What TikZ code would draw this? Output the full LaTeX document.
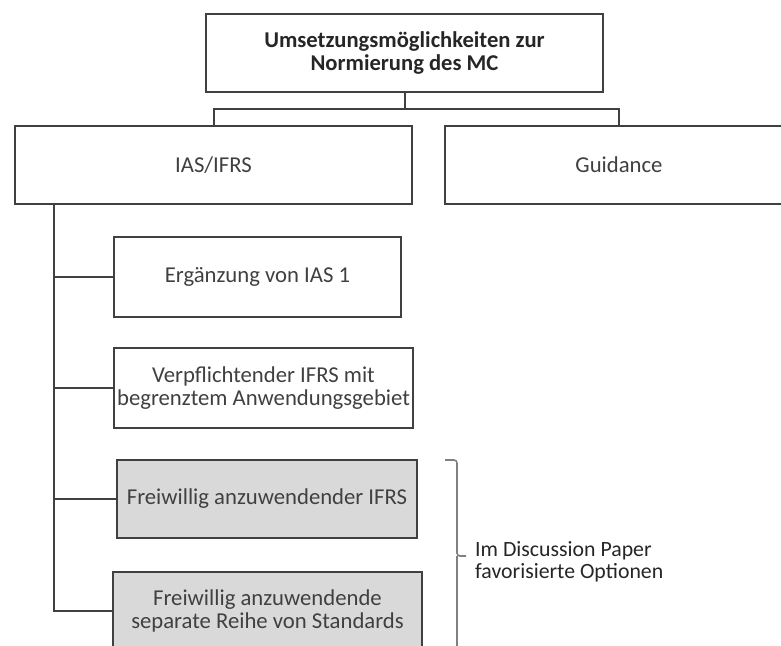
\documentclass[tikz,border=0pt]{standalone}
\usepackage{fontspec}
\setmainfont{Carlito}
\definecolor{linegray}{HTML}{404040}
\definecolor{textgray}{HTML}{404040}
\definecolor{titlegray}{HTML}{262626}
\definecolor{boxfill}{HTML}{D9D9D9}
\definecolor{bracegray}{HTML}{808080}
\tikzset{
  box/.style={draw=linegray, line width=2pt, rectangle, align=center,
    inner sep=0pt, text=textgray, font=\fontsize{22.7}{23.5}\selectfont},
  shaded/.style={box, fill=boxfill},
  link/.style={draw=linegray, line width=2pt},
}
\begin{document}
\begin{tikzpicture}[x=1pt,y=-1pt]
\useasboundingbox (0,0) rectangle (781,645);
\clip (0,0) rectangle (781,645);
\fill[white] (0,0) rectangle (781,645);

% top level
\node[box, text=titlegray, font=\bfseries\fontsize{22.6}{22.5}\selectfont,
  minimum width=397pt, minimum height=78pt] (root) at (404.5,53)
  {Umsetzungsmöglichkeiten zur\\Normierung des MC};

% second level
\node[box, minimum width=397pt, minimum height=78pt] (ias) at (213.5,165) {IAS/IFRS};
\node[box, minimum width=348pt, minimum height=78pt] (guid) at (619,165) {Guidance};

% options below IAS/IFRS
\node[box, minimum width=287pt, minimum height=80pt] (erg) at (257.5,277) {Ergänzung von IAS 1};
\node[box, minimum width=299pt, minimum height=80pt] (verp) at (263.5,388)
  {Verpflichtender IFRS mit\\begrenztem Anwendungsgebiet};
\node[shaded, minimum width=300pt, minimum height=78pt] (frei) at (267,499) {Freiwillig anzuwendender IFRS};
\node[shaded, minimum width=309pt, minimum height=78pt] (sep) at (267.5,611)
  {Freiwillig anzuwendende\\separate Reihe von Standards};

% tree connectors
\coordinate (join) at (404.5,109);
\draw[link] (root.south) -- (join);
\draw[link] (ias.north) |- (join) -| (guid.north);
\coordinate (railx) at (54,0);
\coordinate (rail) at (railx |- ias.south);
\draw[link] (rail) |- (sep.west);
\foreach \n in {erg,verp,frei}
  \draw[link] (\n.west) -- (\n.west -| rail);

% bracket and its label
\coordinate (btop) at (445,460);
\coordinate (bmid) at (466,556);
\coordinate (bbot) at (457,650);
\draw[draw=bracegray, line width=1.6pt, rounded corners=3pt]
  (btop) -| (bbot |- bmid) -- (bmid);
\draw[draw=bracegray, line width=1.6pt] (bbot |- bmid) -- (bbot);
\node[anchor=west, align=left, inner sep=0pt, text=titlegray,
  font=\fontsize{21.8}{22}\selectfont] (note) at (475,562)
  {Im Discussion Paper\\favorisierte Optionen};
\end{tikzpicture}
\end{document}
